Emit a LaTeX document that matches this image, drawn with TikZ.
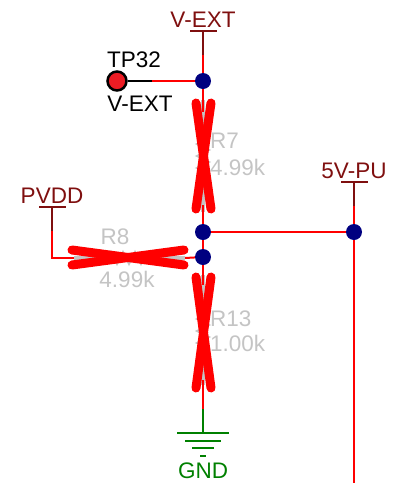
\documentclass[tikz,border=0pt]{standalone}
\usepackage{fontspec}
\setmainfont{Liberation Sans}
\usetikzlibrary{decorations.pathmorphing}
\definecolor{netdark}{HTML}{7F0F0F}
\definecolor{junction}{HTML}{000080}
\definecolor{partgray}{HTML}{C4C4C4}
\definecolor{gndgreen}{HTML}{008000}
\definecolor{tpfill}{HTML}{ED1C24}
\tikzset{
    net/.style={red, line width=2pt},
    stem/.style={netdark, line width=2pt},
    dot/.style={circle, fill=junction, inner sep=0pt, minimum size=16pt},
    netlabel/.style={text=netdark, font=\fontsize{22.5}{22.5}\selectfont, inner sep=0pt},
    partlabel/.style={text=partgray, font=\fontsize{22.5}{22.5}\selectfont, inner sep=0pt},
    cross/.style={red, line width=9pt, line cap=round},
    body/.style={partgray, line width=2pt, decorate, decoration={zigzag, amplitude=6pt, segment length=12pt}},
    lead/.style={partgray, line width=4pt},
    gnd/.style={gndgreen, line width=2pt}
}
\begin{document}
\begin{tikzpicture}[x=1pt, y=-1pt]
    \useasboundingbox (0,0) rectangle (409,483);

    % part labels
    \node[partlabel, anchor=west] (r7name) at (210,141) {R7};
    \node[partlabel, anchor=west] (r7val) at (210,167) {4.99k};
    \node[partlabel] (r8name) at (115,237) {R8};
    \node[partlabel] (r8val) at (127,279) {4.99k};
    \node[partlabel, anchor=west] (r13name) at (210,319) {R13};
    \node[partlabel, anchor=west] (r13val) at (210,343) {1.00k};

    % Junctions
    \node[dot] (j1) at (203,81) {};
    \node[dot] (j2) at (203,232) {};
    \node[dot] (j3) at (203,257) {};
    \node[dot] (j4) at (354,232) {};

    % Supply pins
    \coordinate (vext) at (203,31);
    \coordinate (vextb) at (203,55);
    \coordinate (pu) at (354,182);
    \coordinate (pub) at (354,206);
    \coordinate (pv) at (52,207);
    \coordinate (pvb) at (52,231);
    \coordinate (pvc) at (52,258);
    \coordinate (down) at (354,483);
    \node[netlabel, anchor=south] (vextname) at (203,28) {V-EXT};
    \node[netlabel, anchor=south] (puname) at (354,179) {5V-PU};
    \node[netlabel, anchor=south] (pvname) at (52,204) {PVDD};
    \draw[stem] (190,31) -- (217,31);
    \draw[stem] (341,182) -- (368,182);
    \draw[stem] (39,207) -- (66,207);
    \draw[stem] (vext) -- (vextb);
    \draw[stem] (pu) -- (pub);
    \draw[stem] (pv) -- (pvb);

    % Wires
    \draw[net] (vextb) -- (j1);
    \draw[net] (pub) -- (j4);
    \draw[net] (j4) -- (down);
    \draw[net] (j2) -- (j4);
    \draw[net] (j2) -- (j3);
    \draw[net] (pvb) -- (pvc) -- (74,258);
    \draw[net] (j3) -- (185,258);

    % Test point
    \node (tp) at (117,81) [circle, draw=black, fill=tpfill, line width=2.5pt, inner sep=0pt, minimum size=19pt] {};
    \coordinate (tpa) at (152,81);
    \draw[black, line width=2pt] (tp) -- (tpa);
    \draw[net] (tpa) -- (j1);
    \node[font=\fontsize{22.5}{22.5}\selectfont, inner sep=0pt] (tpname) at (134,60) {TP32};
    \node[font=\fontsize{22.5}{22.5}\selectfont, inner sep=0pt] (tpval) at (140,104) {V-EXT};

    % R7
    \coordinate (r7a) at (203,100);
    \coordinate (r7b) at (203,212);
    \draw[lead] (r7a) -- (r7b);
    \draw[body] (203,135) -- (203,177);
    \draw[net] (j1) -- (203,112);
    \draw[net] (203,205) -- (j2);
    \draw[cross] (196,103) -- (211,209);
    \draw[cross] (211,103) -- (196,209);

    % R8
    \coordinate (r8a) at (74,258);
    \coordinate (r8b) at (185,258);
    \draw[lead] (r8a) -- (r8b);
    \draw[body] (108,258) -- (148,258);
    \draw[cross] (72,250) -- (184,265);
    \draw[cross] (72,265) -- (184,250);

    % R13
    \coordinate (r13a) at (203,275);
    \coordinate (r13b) at (203,385);
    \draw[lead] (r13a) -- (r13b);
    \draw[body] (203,310) -- (203,352);
    \draw[net] (j3) -- (203,285);
    \draw[cross] (196,277) -- (211,388);
    \draw[cross] (211,277) -- (196,388);

    % Ground
    \coordinate (gnda) at (203,409);
    \coordinate (gndb) at (203,433);
    \draw[net] (203,380) -- (gnda);
    \draw[gnd] (gnda) -- (gndb);
    \draw[gnd] (177,433) -- (229,433);
    \draw[gnd] (185,441) -- (221,441);
    \draw[gnd] (192,448) -- (214,448);
    \draw[gnd] (200,456) -- (206,456);
    \node[text=gndgreen, font=\fontsize{22.5}{22.5}\selectfont, inner sep=0pt] (gndname) at (203,471) {GND};
\end{tikzpicture}
\end{document}
